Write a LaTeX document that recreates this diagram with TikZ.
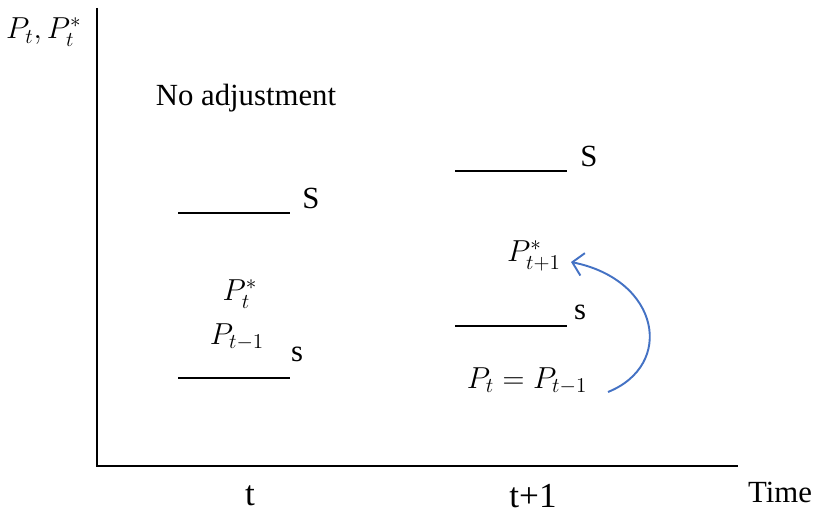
\documentclass[tikz,border=0pt]{standalone}
\usepackage{amsmath}
\usepackage{fontspec}
\setmainfont{Liberation Serif}
\usetikzlibrary{arrows.meta}

\begin{document}
\begin{tikzpicture}[
  axis/.style={line width=1.1pt},
  level/.style={line width=1.6pt},
  lbl/.style={font=\fontsize{17.5}{21}\selectfont, inner sep=1pt},
  mlbl/.style={font=\fontsize{18.5}{22}\selectfont, inner sep=1pt},
  tick/.style={font=\fontsize{20}{24}\selectfont, inner sep=0pt},
  adj/.style={draw={rgb,255:red,68;green,114;blue,196}, line width=1.1pt,
              -{Straight Barb[length=6pt, width=13pt]}}
]
  \useasboundingbox (0,0) rectangle (16.28,10.30);

  % axes
  \coordinate (orig) at (1.94, 0.98);
  \coordinate (ytop) at (1.94, 10.14);
  \coordinate (xend) at (14.76, 0.98);
  \draw[axis] (ytop) -- (orig) -- (xend);
  \node[mlbl, anchor=west] (ylab) at (0.08, 9.66) {$P_t, P_t^*$};
  \node[lbl] (time) at (15.60, 0.46) {Time};
  \node[tick] (tnow) at (5.00, 0.38) {t};
  \node[tick] (tnext) at (10.66, 0.38) {t+1};

  \node[lbl] (noadj) at (4.92, 8.34) {No adjustment};

  % period t
  \coordinate (sl1) at (3.56, 6.04);
  \coordinate (sr1) at (5.80, 6.04);
  \draw[level] (sl1) -- (sr1);
  \node[lbl] (bigs1) at (6.22, 6.34) {S};
  \coordinate (ll1) at (3.56, 2.74);
  \coordinate (lr1) at (5.80, 2.74);
  \draw[level] (ll1) -- (lr1);
  \node[lbl] (smalls1) at (5.94, 3.22) {s};
  \node[mlbl] (pstar) at (4.80, 4.42) {$P_t^*$};
  \node[mlbl] (plag) at (4.74, 3.56) {$P_{t-1}$};

  % period t+1
  \coordinate (sl2) at (9.10, 6.88);
  \coordinate (sr2) at (11.34, 6.88);
  \draw[level] (sl2) -- (sr2);
  \node[lbl] (bigs2) at (11.78, 7.18) {S};
  \coordinate (ll2) at (9.10, 3.78);
  \coordinate (lr2) at (11.34, 3.78);
  \draw[level] (ll2) -- (lr2);
  \node[lbl] (smalls2) at (11.60, 4.06) {s};
  \node[mlbl] (pnext) at (10.68, 5.18) {$P_{t+1}^*$};
  \node[mlbl] (peq) at (10.54, 2.68) {$P_t = P_{t-1}$};

  \coordinate (cs) at (12.16, 2.46);
  \coordinate (ce) at (11.42, 5.06);
  \draw[adj] (cs) .. controls (13.5, 3.0) and (13.2, 4.7) .. (ce);
\end{tikzpicture}
\end{document}
